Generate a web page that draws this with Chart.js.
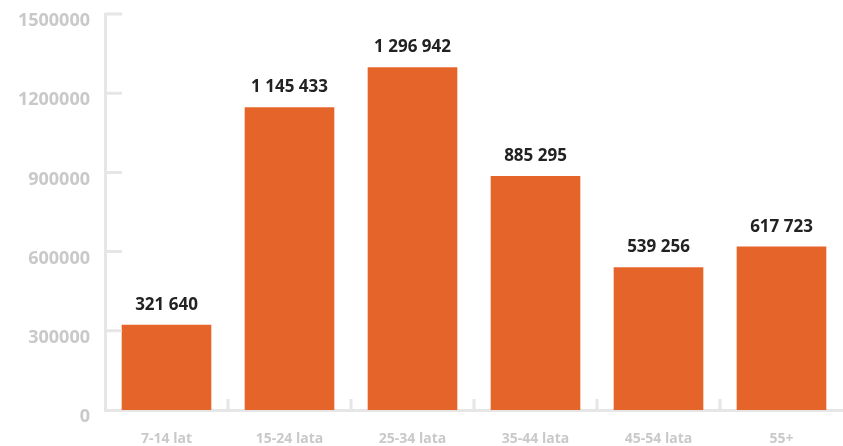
<!DOCTYPE html>
<html>
<head>
<meta charset="utf-8">
<script src="https://cdn.jsdelivr.net/npm/chart.js@4/dist/chart.umd.min.js"></script>
<style>
  html, body { margin: 0; padding: 0; background: #fff; }
  #wrap { width: 843px; height: 446px; }
</style>
</head>
<body>
<div id="wrap"><canvas id="chart"></canvas></div>
<script>
const ageGroups = ["7-14 lat", "15-24 lata", "25-34 lata", "35-44 lata", "45-54 lata", "55+"];
const users = [321640, 1145433, 1296942, 885295, 539256, 617723];
const yTicks = [0, 300000, 600000, 900000, 1200000, 1500000];

const axisColor = "#e6e6e6";
const tickTextColor = "#c9c9c9";

function formatValue(v) {
  return String(v).replace(/\B(?=(\d{3})+(?!\d))/g, " ");
}

// short inward tick marks on both axes
const innerTicks = {
  id: "innerTicks",
  afterDatasetsDraw(chart) {
    const { ctx, chartArea, scales } = chart;
    ctx.save();
    ctx.strokeStyle = axisColor;
    ctx.lineWidth = 3;
    ctx.beginPath();
    yTicks.forEach(t => {
      if (t === 0) return;
      const y = scales.y.getPixelForValue(t);
      ctx.moveTo(chartArea.left, y);
      ctx.lineTo(chartArea.left + 17, y);
    });
    for (let i = 1; i < ageGroups.length; i++) {
      const x = (scales.x.getPixelForValue(i - 1) + scales.x.getPixelForValue(i)) / 2;
      ctx.moveTo(x, chartArea.bottom);
      ctx.lineTo(x, chartArea.bottom - 11);
    }
    ctx.stroke();
    ctx.restore();
  }
};

// value above each bar
const barValues = {
  id: "barValues",
  afterDatasetsDraw(chart) {
    const { ctx } = chart;
    const meta = chart.getDatasetMeta(0);
    ctx.save();
    ctx.fillStyle = "#222";
    ctx.font = "bold 17px 'Open Sans'";
    ctx.textAlign = "center";
    ctx.textBaseline = "middle";
    meta.data.forEach((bar, i) => {
      ctx.fillText(formatValue(users[i]), bar.x, bar.y - 20);
    });
    ctx.restore();
  }
};

new Chart(document.getElementById("chart"), {
  type: "bar",
  data: {
    labels: ageGroups,
    datasets: [{
      data: users,
      backgroundColor: "#e5642a",
      barThickness: 89,
      borderWidth: 0
    }]
  },
  options: {
    responsive: true,
    maintainAspectRatio: false,
    animation: false,
    layout: { padding: { top: 14, right: 0, left: 0, bottom: 0 } },
    plugins: { legend: { display: false }, tooltip: { enabled: false } },
    scales: {
      x: {
        grid: { display: false },
        border: { display: true, color: axisColor, width: 3 },
        ticks: {
          color: tickTextColor,
          font: { family: "'Open Sans'", size: 14, weight: "bold" },
          padding: 13
        },
        afterFit(scale) {
          scale.height = 36;
          scale.paddingLeft = 0;
          scale.paddingRight = 0;
        }
      },
      y: {
        min: 0,
        max: 1500000,
        afterBuildTicks(scale) { scale.ticks = yTicks.map(v => ({ value: v })); },
        grid: { display: false, drawTicks: false },
        border: { display: true, color: axisColor, width: 3 },
        ticks: {
          color: tickTextColor,
          font: { family: "'Open Sans'", size: 18, weight: "bold" },
          padding: 15,
          labelOffset: 7,
          callback: v => String(v)
        },
        afterFit(scale) {
          scale.width = 105;
          scale.paddingTop = 0;
          scale.paddingBottom = 0;
        }
      }
    }
  },
  plugins: [innerTicks, barValues]
});
</script>
</body>
</html>
